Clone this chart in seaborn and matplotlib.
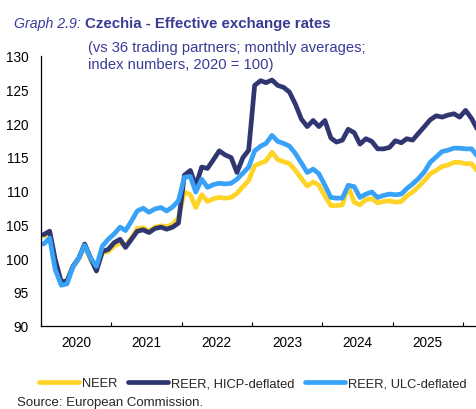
import pandas as pd
import numpy as np
import seaborn as sns
import matplotlib
matplotlib.use('Agg')
from matplotlib import pyplot as plt
import matplotlib.dates as mdates

# monthly data, Jan 2020 - Mar 2026 (index numbers, 2020 = 100)
months = pd.date_range('2020-01-01', periods=75, freq='MS') + pd.Timedelta(days=14)

neer = [103.3, 103.8, 99.0, 96.5, 96.7, 98.8, 100.0, 101.8, 99.7, 98.3, 100.8, 101.0,
        101.8, 102.3, 101.8, 103.0, 104.4, 104.5, 104.0, 104.6, 104.8, 104.7, 105.0, 106.0,
        109.8, 109.4, 107.5, 109.4, 108.4, 108.8, 109.0, 108.9, 109.0, 109.6, 110.6, 111.5,
        113.7, 114.1, 114.4, 115.7, 114.6, 114.3, 114.0, 113.0, 111.8, 110.7, 111.3, 110.8,
        109.2, 107.8, 107.8, 107.9, 110.7, 108.3, 107.9, 108.7, 108.8, 108.2, 108.4, 108.5,
        108.3, 108.4, 109.2, 109.8, 110.6, 111.5, 112.5, 113.0, 113.6, 113.8, 114.2, 114.2,
        114.0, 114.0, 113.0]

reer_hicp = [103.5, 104.0, 99.8, 96.5, 96.6, 98.8, 100.0, 102.1, 100.0, 98.1, 101.0, 101.3,
             102.3, 102.8, 101.6, 102.8, 104.0, 104.2, 103.8, 104.4, 104.6, 104.3, 104.6, 105.2,
             112.3, 113.0, 110.7, 113.5, 113.3, 114.6, 115.9, 115.3, 114.9, 112.7, 114.9, 116.0,
             125.6, 126.3, 126.0, 126.4, 125.6, 125.3, 124.6, 122.8, 120.6, 119.5, 120.4, 119.5,
             120.4, 117.8, 117.2, 117.5, 119.1, 118.6, 116.9, 117.7, 117.3, 116.2, 116.2, 116.4,
             117.4, 117.1, 117.7, 117.5, 118.5, 119.5, 120.5, 121.1, 120.9, 121.2, 121.4, 120.9,
             121.9, 120.7, 119.2]

reer_ulc = [102.1, 103.0, 98.3, 96.0, 96.2, 98.7, 100.0, 101.9, 100.0, 98.8, 101.8, 102.8,
            103.6, 104.6, 104.1, 105.5, 107.0, 107.4, 106.8, 107.3, 107.5, 107.0, 107.6, 108.5,
            112.0, 112.1, 109.8, 111.7, 110.5, 110.9, 111.1, 111.0, 111.1, 111.7, 112.6, 113.5,
            115.9, 116.6, 117.0, 118.2, 117.3, 117.0, 116.6, 115.5, 114.1, 112.7, 113.2, 112.5,
            110.8, 109.0, 108.9, 108.9, 110.8, 110.6, 109.0, 109.5, 109.8, 109.0, 109.3, 109.5,
            109.4, 109.5, 110.3, 111.0, 111.8, 112.8, 114.2, 115.0, 115.8, 116.0, 116.3, 116.3,
            116.2, 116.2, 115.2]

series_names = ['NEER', 'REER, HICP-deflated', 'REER, ULC-deflated']
colors = ['#FFD428', '#2F3670', '#37A2F7']
y_ticks = [90, 95, 100, 105, 110, 115, 120, 125, 130]
years = [2020, 2021, 2022, 2023, 2024, 2025]

df = pd.DataFrame({'date': months, series_names[0]: neer,
                   series_names[1]: reer_hicp, series_names[2]: reer_ulc})
long_df = df.melt(id_vars='date', var_name='series', value_name='index')

sns.set_style('white')
plt.rcParams['font.family'] = ['Liberation Sans', 'DejaVu Sans']

fig = plt.figure(figsize=(4.76, 4.10), dpi=100)
ax = fig.add_axes([41 / 476, 1 - 326.7 / 410, 1 - 41 / 476, 270 / 410])

sns.lineplot(data=long_df, x='date', y='index', hue='series', hue_order=series_names,
             palette=dict(zip(series_names, colors)), linewidth=3.4, ax=ax, legend=False)

ax.set_ylim(90, 130)
ax.set_yticks(y_ticks)
ax.set_xlim(pd.Timestamp('2020-01-01'), pd.Timestamp('2026-03-10'))

# year boundaries as ticks, labels in the middle of each year
ax.xaxis.set_major_locator(mdates.YearLocator())
ax.xaxis.set_major_formatter(matplotlib.ticker.NullFormatter())
ax.set_xticks([pd.Timestamp(f'{y}-07-02') for y in years], minor=True)
ax.set_xticklabels([str(y) for y in years], minor=True)
ax.tick_params(axis='x', which='major', direction='in', length=3, width=0.8, color='black', bottom=True)
ax.tick_params(axis='x', which='minor', length=0, pad=7, labelsize=9.8, labelcolor='black')
ax.tick_params(axis='y', length=0, pad=9, labelsize=9.8, labelcolor='black')

ax.set_xlabel('')
ax.set_ylabel('')
for side in ['top', 'right']:
    ax.spines[side].set_visible(False)
for side in ['left', 'bottom']:
    ax.spines[side].set_color('black')
    ax.spines[side].set_linewidth(0.9)

# title block
title_col = '#3A3A96'
fig.text(14 / 476, 1 - 28 / 410, 'Graph 2.9:', fontsize=10.2, style='italic', color=title_col)
fig.text(85 / 476, 1 - 28 / 410, 'Czechia - Effective exchange rates', fontsize=10.8,
         fontweight='bold', color=title_col)
fig.text(88 / 476, 1 - 52 / 410, '(vs 36 trading partners; monthly averages;', fontsize=10.6,
         color=title_col)
fig.text(88 / 476, 1 - 69 / 410, 'index numbers, 2020 = 100)', fontsize=10.6, color=title_col)

handles = [plt.Line2D([], [], color=c, linewidth=3.4) for c in colors]
fig.legend(handles, series_names, loc='center', bbox_to_anchor=(253 / 476, 1 - 384 / 410),
           ncol=3, frameon=False, fontsize=9.3, handlelength=3.1, handletextpad=0.25,
           columnspacing=0.8)

fig.text(17 / 476, 1 - 409 / 410, 'Source: European Commission.', fontsize=9.5, va='bottom')

fig.savefig('out.png', dpi=100)
